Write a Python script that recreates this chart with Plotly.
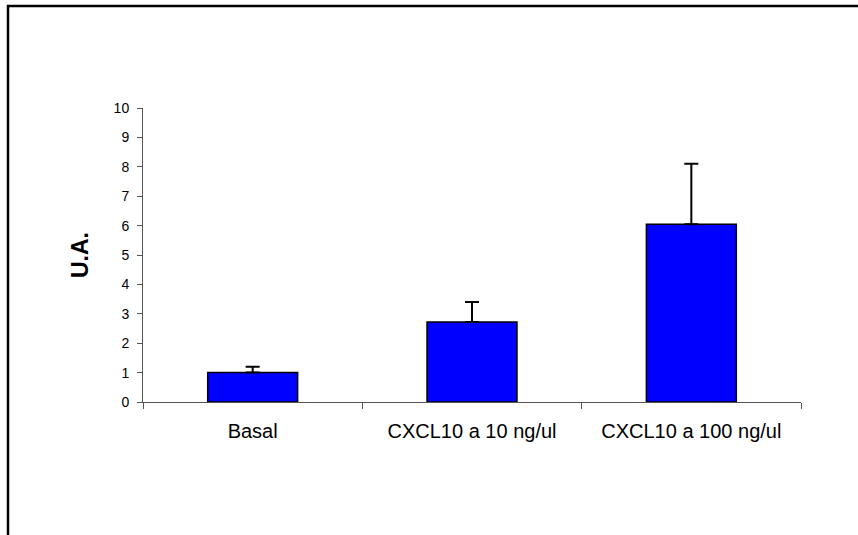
import plotly.graph_objects as go

# Data
categories = ["Basal", "CXCL10 a 10 ng/ul", "CXCL10 a 100 ng/ul"]
values = [1.0, 2.72, 6.05]
errors_up = [0.2, 0.68, 2.05]
y_ticks = list(range(0, 11))

W, H = 858, 535
L, R, T, B = 143, 57, 108, 133

fig = go.Figure()
fig.add_trace(go.Bar(
    x=categories,
    y=values,
    width=0.41,
    marker=dict(color="#0000FF", line=dict(color="black", width=1.5)),
    error_y=dict(type="data", symmetric=False, array=errors_up,
                 arrayminus=[0] * len(values),
                 color="black", thickness=2, width=7),
    showlegend=False,
))

# Heavy black frame: top and left edges only (it runs to the page edge right/bottom)
pw, ph = W - L - R, H - T - B
def px_x(p):
    return (p - L) / pw
def px_y(p):
    return (H - B - p) / ph
frame = dict(color="black", width=2.5)
fig.add_shape(type="line", xref="paper", yref="paper",
              x0=px_x(7), x1=px_x(W), y0=px_y(6), y1=px_y(6), line=frame)
fig.add_shape(type="line", xref="paper", yref="paper",
              x0=px_x(8), x1=px_x(8), y0=px_y(5), y1=px_y(H), line=frame)

font_family = "Liberation Sans, Arial, sans-serif"

fig.update_layout(
    width=W, height=H,
    margin=dict(l=L, r=R, t=T, b=B, autoexpand=False),
    paper_bgcolor="white", plot_bgcolor="white",
    font=dict(family=font_family, color="black"),
    xaxis=dict(
        type="category",
        range=[-0.5, 2.5],
        tickson="boundaries",
        ticks="outside", ticklen=6, tickcolor="#555555", tickwidth=1,
        showline=True, linecolor="#555555", linewidth=1,
        showgrid=False, zeroline=False,
        tickfont=dict(size=20, family=font_family, color="black"),
        ticklabelstandoff=11,
    ),
    yaxis=dict(
        range=[0, 10],
        tickvals=y_ticks,
        ticks="outside", ticklen=5, tickcolor="#555555", tickwidth=1,
        showline=True, linecolor="#555555", linewidth=1,
        showgrid=False, zeroline=False,
        tickfont=dict(size=14, family=font_family, color="black"),
        ticklabelstandoff=5,
        title=dict(text="<b>U.A.</b>", font=dict(size=23, family=font_family, color="black"),
                   standoff=18),
    ),
)

fig.write_html("out.html")
